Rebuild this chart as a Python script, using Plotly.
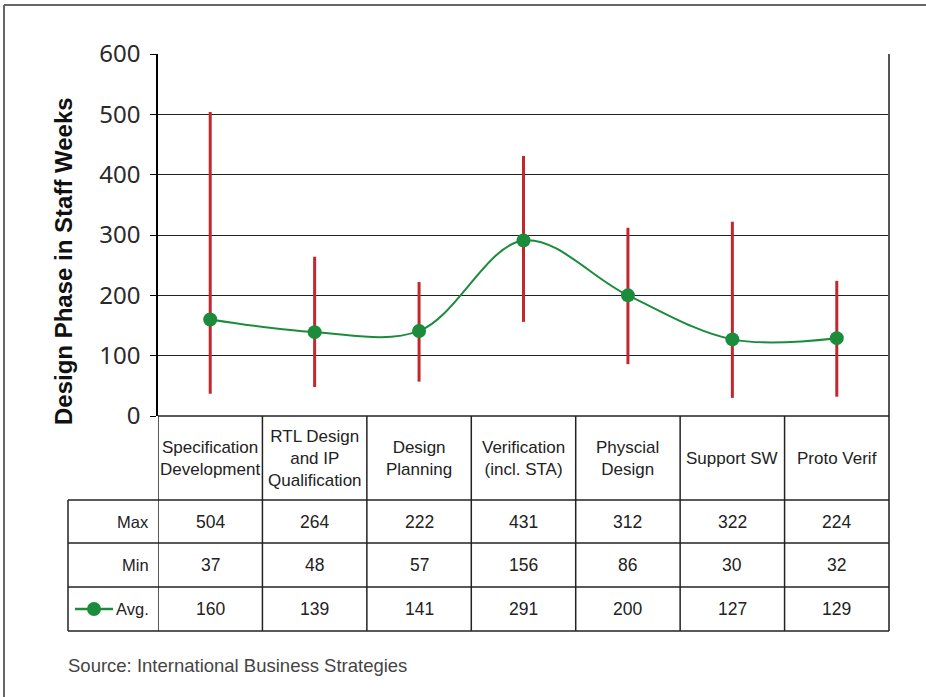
import plotly.graph_objects as go

categories = ["Specification<br>Development", "RTL Design<br>and IP<br>Qualification", "Design<br>Planning",
              "Verification<br>(incl. STA)", "Physcial<br>Design", "Support SW", "Proto Verif"]
max_vals = [504, 264, 222, 431, 312, 322, 224]
min_vals = [37, 48, 57, 156, 86, 30, 32]
avg_vals = [160, 139, 141, 291, 200, 127, 129]
row_labels = ["Max", "Min", "Avg."]
y_ticks = [0, 100, 200, 300, 400, 500, 600]
y_title = "Design Phase in Staff Weeks"
source = "Source: International Business Strategies"

W, H = 926, 697
RED = "#c3272e"
GREEN = "#1b8c3c"
TXT = "#222222"

def py(p):
    return (H - p) / H

def px(p):
    return p / W

x_pos = [i + 0.5 for i in range(len(categories))]

wx, wy = [], []
for x, lo, hi in zip(x_pos, min_vals, max_vals):
    wx += [x, x, None]
    wy += [lo, hi, None]

fig = go.Figure()
fig.add_trace(go.Scatter(x=wx, y=wy, mode="lines", line=dict(color=RED, width=3),
                         hoverinfo="skip", showlegend=False))
fig.add_trace(go.Scatter(x=x_pos, y=avg_vals, mode="lines+markers",
                         line=dict(color=GREEN, width=2, shape="spline", smoothing=1),
                         marker=dict(color=GREEN, size=14), showlegend=False))

plot_l, plot_r = 158, 889
plot_t, plot_b = 54, 416
row_y = [416, 500, 543, 587, 631]
label_l = 68

fig.update_layout(
    width=W, height=H, margin=dict(l=0, r=0, t=0, b=0, autoexpand=False),
    paper_bgcolor="white", plot_bgcolor="white",
    xaxis=dict(domain=[px(plot_l), px(plot_r)], range=[0, len(categories)], automargin=False,
               showticklabels=False, showgrid=False, zeroline=False, ticks=""),
    yaxis=dict(domain=[py(plot_b), py(plot_t)], range=[0, 600], tickvals=y_ticks, automargin=False,
               showgrid=True, gridcolor="#222222", gridwidth=1, zeroline=False,
               showline=True, linecolor="black", linewidth=1.5,
               ticks="outside", ticklen=6, tickcolor="black",
               ticklabelstandoff=5,
               tickfont=dict(family="Noto Sans, Open Sans, sans-serif", size=24, color="#2a2a2a")),
    font=dict(family="Liberation Sans, Arial, sans-serif", color=TXT),
)

shapes = []
line_style = dict(color="#222222", width=1.5)
shapes.append(dict(type="line", xref="paper", yref="paper", x0=px(plot_r), x1=px(plot_r),
                   y0=py(plot_t), y1=py(row_y[-1]), line=dict(color="#555555", width=2)))
for i, ry in enumerate(row_y):
    x0 = plot_l if i == 0 else label_l
    shapes.append(dict(type="line", xref="paper", yref="paper", x0=px(x0), x1=px(plot_r),
                       y0=py(ry), y1=py(ry), line=line_style))
for k in range(0, len(categories)):
    shapes.append(dict(type="line", xref="x", yref="paper", x0=k, x1=k,
                       y0=py(row_y[0]), y1=py(row_y[-1]), line=line_style))
shapes.append(dict(type="line", xref="paper", yref="paper", x0=px(label_l), x1=px(label_l),
                   y0=py(row_y[1]), y1=py(row_y[-1]), line=line_style))
shapes.append(dict(type="line", xref="paper", yref="paper", x0=px(4), x1=px(4),
                   y0=py(5), y1=0, line=dict(color="#666666", width=2)))
shapes.append(dict(type="line", xref="paper", yref="paper", x0=px(4), x1=1,
                   y0=py(5), y1=py(5), line=dict(color="#666666", width=2)))
ly = (row_y[3] + row_y[4]) / 2
shapes.append(dict(type="line", xref="paper", yref="paper", x0=px(75), x1=px(113),
                   y0=py(ly), y1=py(ly), line=dict(color=GREEN, width=2.5)))
shapes.append(dict(type="circle", xref="paper", yref="paper", xsizemode="pixel", ysizemode="pixel",
                   xanchor=px(94), yanchor=py(ly), x0=-7, x1=7, y0=-7, y1=7,
                   fillcolor=GREEN, line=dict(color=GREEN, width=0)))
fig.update_layout(shapes=shapes)

ann = []
hdr_mid = (row_y[0] + row_y[1]) / 2
for x, c in zip(x_pos, categories):
    ann.append(dict(x=x, y=py(hdr_mid), xref="x", yref="paper", text=c, showarrow=False,
                    font=dict(size=17, color=TXT), xanchor="center", yanchor="middle"))
rows = [max_vals, min_vals, avg_vals]
for r, (lab, vals) in enumerate(zip(row_labels, rows)):
    mid = (row_y[r + 1] + row_y[r + 2]) / 2
    ann.append(dict(x=px(151), y=py(mid), xref="paper", yref="paper", text=lab, showarrow=False,
                    font=dict(size=16.5, color=TXT), xanchor="right", yanchor="middle"))
    for x, v in zip(x_pos, vals):
        ann.append(dict(x=x, y=py(mid), xref="x", yref="paper", text=str(v), showarrow=False,
                        font=dict(size=17.5, color=TXT), xanchor="center", yanchor="middle"))
ann.append(dict(x=px(63), y=py(261), xref="paper", yref="paper", text="<b>" + y_title + "</b>",
                textangle=-90, showarrow=False,
                font=dict(family="Liberation Sans, Arial, sans-serif", size=24, color="#111111"),
                xanchor="center", yanchor="middle"))
ann.append(dict(x=px(66), y=py(665), xref="paper", yref="paper",
                text=source, showarrow=False,
                font=dict(size=18.5, color="#444444"), xanchor="left", yanchor="middle"))
fig.update_layout(annotations=ann)

fig.write_html("out.html", config={"displayModeBar": False},
               post_script=("document.body.style.margin='0';document.body.style.overflow='hidden';"
                            "var d=document.getElementById('{plot_id}');"
                            "d.style.position='fixed';d.style.top='0px';d.style.left='0px';"))
